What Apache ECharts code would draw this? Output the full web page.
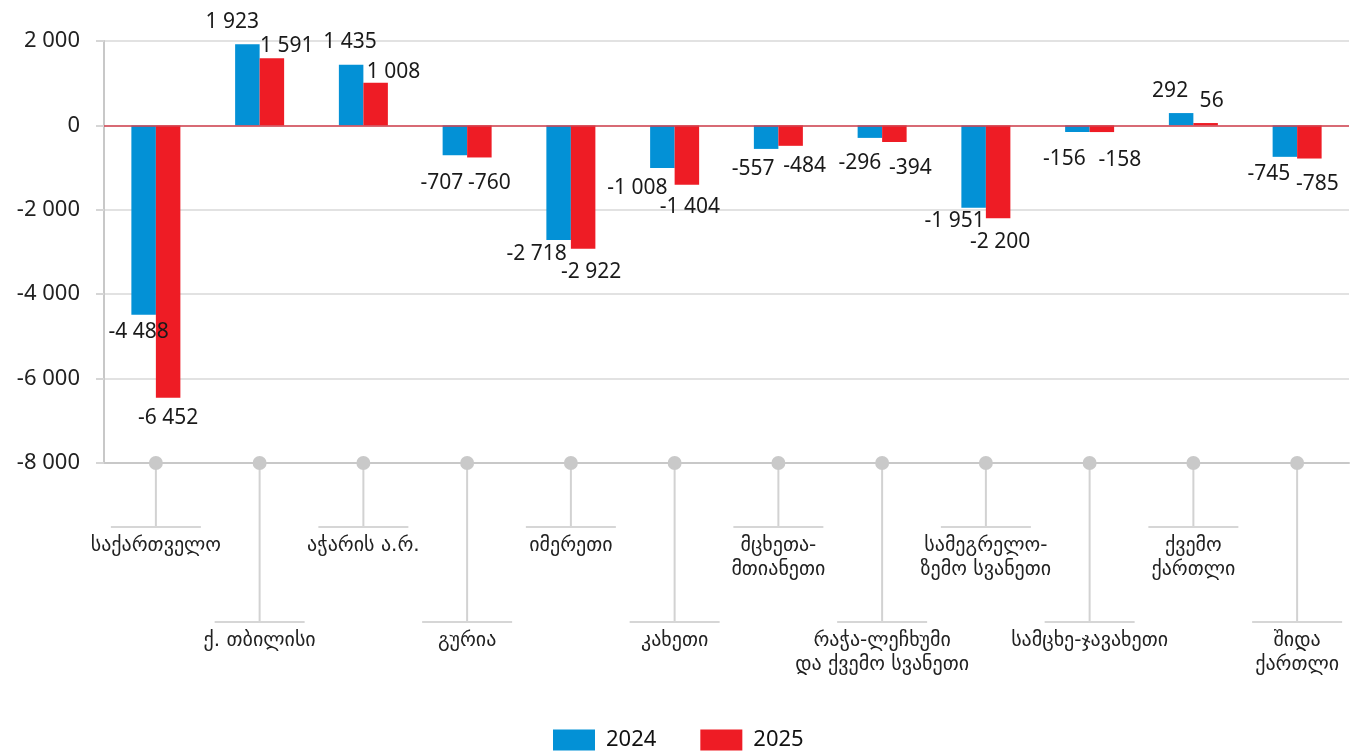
<!DOCTYPE html>
<html>
<head>
<meta charset="utf-8">
<script src="https://cdn.jsdelivr.net/npm/echarts@6/dist/echarts.min.js"></script>
<style>
  html, body { margin: 0; padding: 0; background: #ffffff; }
  #chart { width: 1350px; height: 754px; }
</style>
</head>
<body>
<div id="chart"></div>
<script>
// ---- data ----
const categories = [
  'საქართველო',
  'ქ. თბილისი',
  'აჭარის ა.რ.',
  'გურია',
  'იმერეთი',
  'კახეთი',
  'მცხეთა-\nმთიანეთი',
  'რაჭა-ლეჩხუმი\nდა ქვემო სვანეთი',
  'სამეგრელო-\nზემო სვანეთი',
  'სამცხე-ჯავახეთი',
  'ქვემო\nქართლი',
  'შიდა\nქართლი'
];
const values2024 = [-4488, 1923, 1435, -707, -2718, -1008, -557, -296, -1951, -156, 292, -745];
const values2025 = [-6452, 1591, 1008, -760, -2922, -1404, -484, -394, -2200, -158, 56, -785];
const seriesNames = ['2024', '2025'];
const yTicks = { min: -8000, max: 2000, interval: 2000 };

// ---- label nudges (layout only) ----
const nudge2024 = [[-5,7],[-15,-12],[-1,-12],[-13,17],[-22,3],[-25,10],[-13,10],[-10,15],[-19,3],[-13,17],[-11,-12],[-16,7]];
const nudge2025 = [[0,10],[15,-2],[18,0],[10,15],[8,13],[3,12],[14,10],[16,15],[2,13],[18,17],[6,-12],[8,15]];

const COLORS = ['#0391d6', '#ee1c25'];
const NUM_FONT = '"Noto Sans", "Open Sans", sans-serif';
const GEO_FONT = '"DejaVu Sans", sans-serif';

function fmt(v) {
  const s = String(Math.abs(v)).replace(/\B(?=(\d{3})+(?!\d))/g, ' ');
  return (v < 0 ? '-' : '') + s;
}

function buildData(values, nudges) {
  return values.map((v, i) => ({
    value: v,
    label: { position: v < 0 ? 'bottom' : 'top', offset: nudges[i] }
  }));
}

const chart = echarts.init(document.getElementById('chart'));

const barLabel = {
  show: true,
  distance: 0,
  color: '#1a1a1a',
  fontFamily: NUM_FONT,
  fontSize: 21,
  lineHeight: 21,
  formatter: (p) => fmt(p.value)
};

const option = {
  animation: false,
  backgroundColor: '#ffffff',
  grid: { left: 104, right: 1, top: 41, bottom: 291, containLabel: false },
  legend: {
    data: seriesNames,
    left: 553,
    top: 729,
    padding: 0,
    itemWidth: 42,
    itemHeight: 21,
    itemGap: 44,
    icon: 'rect',
    textStyle: { fontFamily: NUM_FONT, fontSize: 22, color: '#111', padding: [0, 0, 0, 6] }
  },
  xAxis: {
    type: 'category',
    data: categories,
    axisLine: { onZero: false, lineStyle: { color: '#c8c8c8', width: 2 } },
    axisTick: { show: false },
    axisLabel: { show: false },
    splitLine: { show: false }
  },
  yAxis: {
    type: 'value',
    min: yTicks.min,
    max: yTicks.max,
    interval: yTicks.interval,
    axisLine: { show: true, lineStyle: { color: '#c8c8c8', width: 2 } },
    axisTick: { show: true, length: 8, lineStyle: { color: '#d6d6d6', width: 2 } },
    axisLabel: {
      margin: 24,
      color: '#222',
      fontFamily: NUM_FONT,
      fontSize: 22,
      formatter: (v) => fmt(v)
    },
    splitLine: { show: true, lineStyle: { color: '#e2e2e2', width: 2 } }
  },
  series: [
    {
      name: seriesNames[0],
      type: 'bar',
      data: buildData(values2024, nudge2024),
      barWidth: 24.5,
      barGap: '0%',
      itemStyle: { color: COLORS[0] },
      label: barLabel,
      z: 3,
      markLine: {
        silent: true,
        symbol: 'none',
        label: { show: false },
        lineStyle: { color: '#d4424f', width: 1.5, type: 'solid' },
        data: [{ yAxis: 0 }]
      }
    },
    {
      name: seriesNames[1],
      type: 'bar',
      data: buildData(values2025, nudge2025),
      barWidth: 24.5,
      barGap: '0%',
      itemStyle: { color: COLORS[1] },
      label: barLabel,
      z: 3
    },
    {
      type: 'custom',
      clip: false,
      silent: true,
      z: 5,
      data: categories.map((c, i) => [i, yTicks.min]),
      renderItem: function (params, api) {
        const idx = api.value(0);
        const pt = api.coord([idx, api.value(1)]);
        const long = idx % 2 === 1;
        const endY = pt[1] + (long ? 159 : 64);
        return {
          type: 'group',
          children: [
            { type: 'line', shape: { x1: pt[0], y1: pt[1], x2: pt[0], y2: endY }, style: { stroke: '#d2d2d2', lineWidth: 2 } },
            { type: 'line', shape: { x1: pt[0] - 45, y1: endY, x2: pt[0] + 45, y2: endY }, style: { stroke: '#d6d6d6', lineWidth: 2 } },
            { type: 'circle', shape: { cx: pt[0], cy: pt[1], r: 7 }, style: { fill: '#c9c9c9' } },
            {
              type: 'text',
              x: pt[0],
              y: endY + 7,
              style: {
                text: categories[idx],
                fill: '#222',
                font: '20px ' + GEO_FONT,
                lineHeight: 24,
                align: 'center',
                verticalAlign: 'top'
              }
            }
          ]
        };
      }
    }
  ]
};

chart.setOption(option);
</script>
</body>
</html>
